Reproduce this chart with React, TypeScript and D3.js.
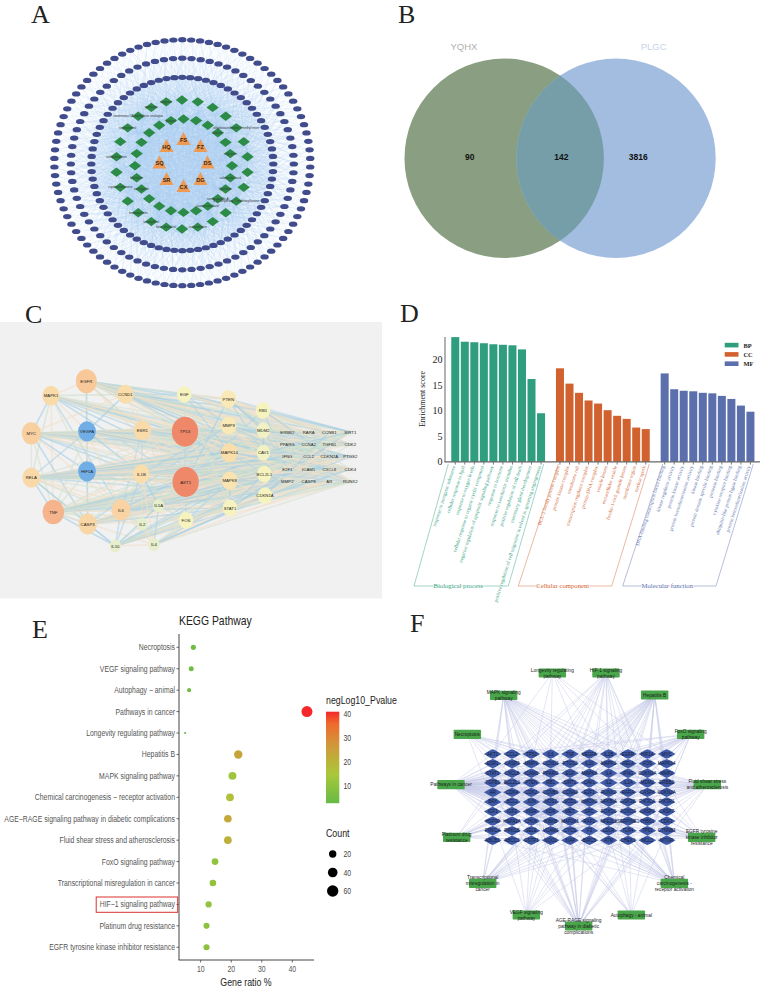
import React from "react";
import * as d3 from "d3";

const W = 764, H = 994;
const SANS = "'Liberation Sans', Arial, sans-serif";
const SERIF = "'Liberation Serif', 'Times New Roman', serif";

/* ---------- panel letters ---------- */
const panelLetters = ["A", "B", "C", "D", "E", "F"];
const letterX = [31, 398, 25, 400, 32, 410];
const letterY = [23, 23, 323, 322, 638, 632];

/* ---------- A: herb - compound - target network ---------- */
const herbs = ["FS", "FZ", "DS", "DG", "CX", "SR", "SQ", "HQ"];
const targetRingCounts = [90, 76, 72];
const targetRingRx = [128, 111.5, 91];
const targetRingRy = [123, 105.8, 86.7];
const targetRingCy = [162.7, 164, 164];
const compoundsOuter = [
  "", "", "", "", "dihydrotanshinone I methyl ester", "", "", "", "", "3',4'-dihydroxy-7-methoxyflavone", "", "",
  "isorhamnetin", "", "beta-sitosterol",
  "kaempferol", "formononetin", "", "cryptotanshinone", "", "isoliquiritigenin", "",
  "stigmasterol", "tanshinone IIA methylene analogue", "quercetin", "wogonin",
];
const compoundsInner = [
  "", "", "", "luteolin", "", "calycosin", "", "salvianolic acid", "ligustilide", "senkyunolide A", "isomucronulatol", "", "",
  "", "", "", "naringenin", "baicalein", "", "", "", "", "", "jaranol",
];

const angle = (i: number, n: number) =>
  d3.scaleLinear().domain([0, n]).range([-Math.PI / 2, (3 * Math.PI) / 2])(i);

function PanelA() {
  const cx = 182.3;
  const rings = targetRingCounts.map((n, r) =>
    d3.range(n).map((i) => ({
      x: cx + targetRingRx[r] * Math.cos(angle(i, n)),
      y: targetRingCy[r] + targetRingRy[r] * Math.sin(angle(i, n)),
    }))
  );
  const place = (names: string[], rx: number, ry: number, x0: number, y0: number) =>
    names.map((name, i) => ({
      name,
      x: x0 + rx * Math.cos(angle(i, names.length)),
      y: y0 + ry * Math.sin(angle(i, names.length)),
    }));
  const greenOuter = place(compoundsOuter, 66, 64.5, 182, 164.5);
  const greenInner = place(compoundsInner, 48.5, 46.7, 183.5, 165.7);
  const greens = [...greenOuter, ...greenInner];
  const herbNodes = place(herbs, 24, 23.5, 183.5, 163);
  const links: [number, number, number, number][] = [];
  greens.forEach((g, i) => {
    rings.forEach((ring, r) => {
      const stride = r === 2 ? 3 : 7;
      ring.forEach((t, j) => {
        if (j % stride === i % stride) links.push([g.x, g.y, t.x, t.y]);
      });
    });
    herbNodes.forEach((h) => links.push([h.x, h.y, g.x, g.y]));
  });
  return (
    <g>
      <g stroke="#a9cff0" strokeWidth={0.32} strokeOpacity={0.45}>
        {links.map((l, i) => (
          <line key={i} x1={l[0]} y1={l[1]} x2={l[2]} y2={l[3]} />
        ))}
      </g>
      {rings.flat().map((t, i) => (
        <ellipse key={i} cx={t.x} cy={t.y} rx={4.2} ry={2.6} fill="#404c8c" />
      ))}
      {greens.map((g, i) => (
        <polygon
          key={i}
          points={`${g.x - 6.2},${g.y} ${g.x},${g.y - 4.7} ${g.x + 6.2},${g.y} ${g.x},${g.y + 4.7}`}
          fill="#2c8b47"
        />
      ))}
      {greens.map((g, i) => (
        <text key={i} x={g.x} y={g.y + 1} fontSize={3.2} fontFamily={SANS} fill="#3a3a3a" textAnchor="middle">
          {g.name}
        </text>
      ))}
      {herbNodes.map((h) => (
        <g key={h.name}>
          <polygon
            points={`${h.x},${h.y - 7.5} ${h.x + 7},${h.y + 5.5} ${h.x - 7},${h.y + 5.5}`}
            fill="#ef9a52"
          />
          <text x={h.x} y={h.y + 2.4} fontSize={5.6} fontFamily={SANS} fontWeight="bold" fill="#3a2a20" textAnchor="middle">
            {h.name}
          </text>
        </g>
      ))}
    </g>
  );
}

/* ---------- B: Venn ---------- */
const vennSets = ["YQHX", "PLGC"];
const vennCounts = [90, 142, 3816];
const vennCountX = [469.7, 561.3, 638.3];

function PanelB() {
  return (
    <g>
      <defs>
        <clipPath id="vennLeft">
          <circle cx={504.2} cy={158.2} r={99.7} />
        </clipPath>
      </defs>
      <circle cx={504.2} cy={158.2} r={99.7} fill="#8a9f81" />
      <circle cx={616} cy={158.2} r={99.7} fill="#a3bde0" />
      <circle cx={616} cy={158.2} r={99.7} fill="#769ea8" clipPath="url(#vennLeft)" />
      <text x={464} y={50} fontSize={9.5} fontFamily={SANS} fill="#b0b0ac" textAnchor="middle">
        {vennSets[0]}
      </text>
      <text x={653.7} y={50} fontSize={9.5} fontFamily={SANS} fill="#c6d4e9" textAnchor="middle">
        {vennSets[1]}
      </text>
      {vennCounts.map((c, i) => (
        <text key={c} x={vennCountX[i]} y={160} fontSize={8.5} fontWeight="bold" fontFamily={SANS} fill="#111" textAnchor="middle">
          {c}
        </text>
      ))}
    </g>
  );
}

/* ---------- C: PPI network ---------- */
const geneNames = [
  "EGFR", "MAPK1", "CCND1", "EGF", "PTEN", "RB1", "MYC", "VEGFA", "ESR1", "TP53", "MMP9", "MDM2",
  "ERBB2", "RARA", "CCNB1", "SIRT1", "PPARG", "CCNA2", "TGFB1", "CDK2", "MAPK14", "CAV1", "IFNG", "CCL2",
  "CDKN2A", "PTGS2", "RELA", "HIF1A", "IL1B", "AKT1", "MAPK8", "BCL2L1", "E2F1", "ICAM1", "CXCL8", "CDK4",
  "MMP2", "CASP8", "AR", "RUNX2", "CDKN1A", "TNF", "CASP3", "IL6", "IL1A", "STAT1", "FOS", "IL2", "IL10", "IL4",
];
const geneLayoutX = [
  259, 153, 376, 553, 685, 789, 94, 261, 427, 555, 686, 790,
  862, 926, 988, 1051, 862, 926, 988, 1051, 688, 790, 862, 926,
  988, 1051, 94, 261, 424, 557, 689, 793, 862, 926, 988, 1051,
  862, 926, 988, 1051, 795, 160, 263, 363, 476, 690, 558, 427, 346, 462,
];
const geneLayoutY = [
  214, 257, 253, 253, 267, 301, 370, 364, 361, 365, 347, 361,
  366, 366, 366, 366, 403, 403, 403, 403, 428, 428, 440, 440,
  440, 440, 503, 484, 492, 516, 512, 492, 478, 478, 478, 478,
  515, 515, 515, 515, 557, 606, 642, 600, 587, 594, 631, 642, 708, 704,
];
const geneDegree = [
  30, 23, 22, 18, 20, 18, 27, 24, 23, 40, 20, 16,
  9, 9, 9, 9, 9, 9, 9, 9, 22, 16, 9, 9,
  9, 9, 24, 24, 22, 40, 21, 18, 9, 9, 9, 9,
  9, 9, 9, 9, 18, 31, 25, 26, 12, 18, 18, 12, 12, 12,
];
const gridTop = "ERBB2 RARA CCNB1 SIRT1 PPARG CCNA2 TGFB1 CDK2";
const gridMid = "IFNG CCL2 CDKN2A PTGS2 E2F1 ICAM1 CXCL8 CDK4";
const gridLow = "MMP2 CASP8 AR RUNX2";
const ppiLinks: [string, string][] = [
  ["EGFR", `MAPK1 CCND1 VEGFA ESR1 HIF1A TP53 AKT1 EGF PTEN MMP9 MDM2 MAPK14 CAV1 RB1 STAT1 ${gridTop} ${gridMid}`],
  ["MAPK1", `MYC RELA VEGFA ESR1 HIF1A TP53 AKT1 CCND1 TNF IL6 MMP9 MAPK14 MAPK8 ${gridMid} RUNX2 CASP8`],
  ["CCND1", `ESR1 VEGFA TP53 AKT1 EGF PTEN MYC RB1 MDM2 CDKN1A MAPK14 ${gridTop} E2F1 CDK4 CDKN2A RUNX2`],
  ["MYC", `RELA VEGFA HIF1A ESR1 TP53 AKT1 TNF IL6 CASP3 MMP9 BCL2L1 MDM2 CDKN1A MAPK8 STAT1 ${gridTop} ${gridMid}`],
  ["VEGFA", `HIF1A ESR1 TP53 AKT1 RELA TNF IL6 IL1B CASP3 MMP9 MAPK14 CAV1 ${gridTop} ${gridMid} ${gridLow}`],
  ["ESR1", `TP53 AKT1 IL1B FOS CDKN1A MAPK14 BCL2L1 STAT1 IL6 ${gridTop} PTGS2 CXCL8 AR RUNX2`],
  ["HIF1A", `TP53 AKT1 RELA TNF IL6 CASP3 IL1B MMP9 MAPK8 BCL2L1 CDKN1A STAT1 ${gridTop} ${gridMid} ${gridLow}`],
  ["RELA", `TNF CASP3 IL6 IL1B TP53 AKT1 MAPK14 MAPK8 BCL2L1 CDKN1A STAT1 FOS IL10 IL2 ${gridMid} ${gridLow} ${gridTop}`],
  ["TP53", `AKT1 PTEN MDM2 MMP9 RB1 MAPK14 MAPK8 BCL2L1 CDKN1A CAV1 STAT1 FOS ${gridTop} ${gridMid} ${gridLow}`],
  ["AKT1", `PTEN MDM2 MMP9 RB1 MAPK14 MAPK8 BCL2L1 CDKN1A CAV1 STAT1 FOS IL6 TNF ${gridTop} ${gridMid} ${gridLow}`],
  ["TNF", `CASP3 IL6 IL1B IL10 IL2 IL4 IL1A FOS STAT1 MAPK8 MAPK14 BCL2L1 CDKN1A MMP9 ${gridMid} ${gridLow} PPARG TGFB1 SIRT1`],
  ["CASP3", `IL6 IL10 IL1B FOS STAT1 BCL2L1 CDKN1A MMP9 MAPK8 ${gridMid} CASP8 MMP2`],
  ["IL6", `IL10 IL2 IL4 IL1A IL1B FOS STAT1 MMP9 MAPK8 MAPK14 ${gridMid} ${gridLow} TGFB1 PPARG`],
  ["IL1B", `IL10 IL2 IL4 IL1A FOS STAT1 MMP9 MAPK14 CAV1 ${gridMid} MMP2 TGFB1`],
  ["IL10", `IL2 IL4 IL1A FOS STAT1 MAPK8 BCL2L1 CDKN1A IFNG CCL2 CXCL8 ICAM1 MMP2 RUNX2 AR CASP8`],
  ["IL4", `IL2 IL1A FOS STAT1 CDKN1A IFNG CCL2 TGFB1 RUNX2 AR CXCL8`],
  ["IL1A", `FOS STAT1 MAPK8 CCL2 CXCL8 ICAM1`],
  ["EGF", `TP53 PTEN MMP9 ERBB2 CCNB1 SIRT1 TGFB1 CDK2 MAPK14 STAT1`],
  ["PTEN", `RB1 MDM2 MMP9 ERBB2 SIRT1 CCNB1 CDK2 AR RUNX2 TGFB1 CAV1`],
  ["RB1", `MDM2 CCNB1 SIRT1 CDK2 CCNA2 E2F1 CDK4 RUNX2 CDKN2A`],
  ["MMP9", `MAPK14 CAV1 TGFB1 CXCL8 MMP2 PTGS2 ICAM1 CCL2 RUNX2 ERBB2`],
  ["MDM2", `SIRT1 CDK2 CCNB1 CDKN2A E2F1 AR RUNX2 CAV1`],
  ["MAPK14", `MAPK8 CAV1 BCL2L1 SIRT1 PTGS2 CXCL8 TGFB1 RUNX2 CDK4`],
  ["MAPK8", `BCL2L1 CDKN1A STAT1 SIRT1 PTGS2 CXCL8 CASP8 RUNX2 AR`],
  ["FOS", `STAT1 CDKN1A MAPK8 RUNX2 AR MMP2 CASP8 TGFB1 PTGS2 CXCL8`],
  ["STAT1", `CDKN1A BCL2L1 RUNX2 AR CDK4 IFNG CXCL8 SIRT1`],
  ["CDKN1A", `RUNX2 AR CDK4 CDK2 SIRT1 CCNB1`],
  ["BCL2L1", `SIRT1 CDK4 RUNX2 CASP8 CDKN2A`],
  ["CAV1", `SIRT1 CDK2 CDK4 PTGS2 RUNX2`],
];
const edgeTints = ["#f2dfc8", "#a6cfe2", "#cfe0cd", "#f2dfc8", "#b4d4e2", "#d8e2d2"];

function PanelC() {
  const px = d3.scaleLinear().domain([0, 3]).range([0, 1]);
  const py = d3.scaleLinear().domain([0, 3]).range([310, 311]);
  const rad = d3.scaleLinear().domain([9, 40]).range([5, 13.4]);
  const col = d3
    .scaleLinear<string>()
    .domain([9, 12, 18, 22, 30, 31, 40])
    .range(["#e7edda", "#e7eecb", "#f6f3bf", "#f9deac", "#f8c899", "#f5b48c", "#ef8769"]);
  const idx = new Map(geneNames.map((g, i) => [g, i]));
  const edges = ppiLinks.flatMap(([s, t]) =>
    t.split(" ").map((g) => ({ s: idx.get(s)!, t: idx.get(g)! }))
  );
  const tinted = edges.map((e, i) => ({ ...e, tint: edgeTints[i % edgeTints.length] }));
  return (
    <g>
      <rect x={0} y={322} width={382} height={276.5} fill="#f1f1f2" />
      <g strokeLinecap="round">
        {tinted.map((e, i) => (
          <line
            key={i}
            x1={px(geneLayoutX[e.s])}
            y1={py(geneLayoutY[e.s])}
            x2={px(geneLayoutX[e.t])}
            y2={py(geneLayoutY[e.t])}
            stroke={e.tint}
            strokeWidth={1.6}
            strokeOpacity={0.62}
          />
        ))}
      </g>
      {geneNames.map((g, i) => {
        const blue = g === "VEGFA" || g === "HIF1A";
        const small = geneDegree[i] === 9;
        return (
          <g key={g}>
            <ellipse
              cx={px(geneLayoutX[i])}
              cy={py(geneLayoutY[i])}
              rx={small ? 6 : rad(geneDegree[i]) * 0.98}
              ry={small ? 4 : rad(geneDegree[i]) * 1.12}
              fill={blue ? "#72aee6" : col(geneDegree[i])}
              fillOpacity={small ? 0.25 : 1}
            />
            <text
              x={px(geneLayoutX[i])}
              y={py(geneLayoutY[i]) + 1.5}
              fontSize={4.3}
              fontFamily={SANS}
              fill="#222"
              textAnchor="middle"
            >
              {g}
            </text>
          </g>
        );
      })}
    </g>
  );
}

/* ---------- D: GO enrichment ---------- */
const bpTerms = [
  "response to inorganic substance", "cellular response to lipid", "response to oxygen levels",
  "cellular response to organic cyclic compound", "negative regulation of apoptotic signaling pathway",
  "response to hormone", "response to xenobiotic stimulus", "positive regulation of cell death",
  "mammary gland development", "positive regulation of cell migration involved in sprouting angiogenesis",
];
const bpScores = [24.4, 23.5, 23.4, 23.2, 23.0, 22.9, 22.8, 22.0, 16.2, 9.5];
const ccTerms = [
  "BCL-2 family protein complex", "protein kinase complex", "membrane raft",
  "transcription regulator complex", "protein-DNA complex", "vesicle lumen",
  "extracellular vesicle", "ficolin-1-rich granule lumen", "membrane region", "nuclear speck",
];
const ccScores = [18.3, 15.3, 13.5, 12.0, 11.4, 10.1, 9.0, 8.4, 6.7, 6.4];
const mfTerms = [
  "DNA-binding transcription factor binding", "kinase regulator activity", "protein kinase activity",
  "protein homodimerization activity", "kinase binding", "protein domain specific binding",
  "protease binding", "cytokine receptor binding", "ubiquitin-like protein ligase binding",
  "protein heterodimerization activity",
];
const mfScores = [17.3, 14.2, 13.9, 13.8, 13.5, 13.4, 12.9, 12.3, 11.0, 9.8];
const goYTicks = [0, 5, 10, 15, 20];
const goGroups = ["BP", "CC", "MF"];
const goGroupTitles = ["Biological process", "Cellular component", "Molecular function"];

function PanelD() {
  const y = d3.scaleLinear().domain([0, 20]).range([461.8, 359.6]);
  const colours = ["#2f9e7e", "#d1622f", "#5b6fad"];
  const ranges: [number, number][] = [[450.5, 545.8], [555.2, 650.5], [659.9, 755.2]];
  const groups = [
    { terms: bpTerms, scores: bpScores },
    { terms: ccTerms, scores: ccScores },
    { terms: mfTerms, scores: mfScores },
  ];
  const boxX = [[58.3, 24, 118.3, 153.7], [168.3, 128.3, 221.7, 259.3], [272.7, 232.7, 326, 363.3]];
  const titleX = [458.3, 562.7, 667.3];
  return (
    <g>
      {groups.map((g, k) => {
        const x = d3.scaleBand().domain(g.terms).range(ranges[k]).paddingInner(0.16).paddingOuter(0.08);
        const [a, b, c, d] = boxX[k].map((v) => 390 + v);
        return (
          <g key={k}>
            <path d={`M${a},464 L${b},586 L${c},586 L${d},464`} fill="none" stroke={colours[k]} strokeOpacity={0.75} strokeWidth={0.6} />
            {g.terms.map((t, i) => (
              <g key={t}>
                <rect x={x(t)} y={y(g.scores[i])} width={x.bandwidth()} height={y(0) - y(g.scores[i])} fill={colours[k]} />
                <line x1={x(t)! + x.bandwidth() / 2} x2={x(t)! + x.bandwidth() / 2} y1={461.8} y2={464.6} stroke="#444" strokeWidth={0.7} />
                <text
                  transform={`translate(${x(t)! + x.bandwidth() / 2 - 1},466) rotate(-72)`}
                  fontSize={5}
                  fontFamily={SERIF}
                  fill={colours[k]}
                  textAnchor="end"
                  dominantBaseline="middle"
                >
                  {t}
                </text>
              </g>
            ))}
            <text
              x={titleX[k]}
              y={588}
              fontSize={6.7}
              fontFamily={SERIF}
              fill={colours[k]}
              textAnchor="middle"
              stroke="#fff"
              strokeWidth={1.5}
              paintOrder="stroke"
            >
              {goGroupTitles[k]}
            </text>
          </g>
        );
      })}
      <line x1={445} x2={445} y1={337} y2={462} stroke="#666" strokeWidth={1} />
      <line x1={444.5} x2={760} y1={461.8} y2={461.8} stroke="#666" strokeWidth={1.2} />
      {goYTicks.map((t) => (
        <text key={t} x={442.5} y={y(t) + 3.4} fontSize={10} fontFamily={SERIF} fill="#222" textAnchor="end">
          {t}
        </text>
      ))}
      <text transform="translate(425,399) rotate(-90)" fontSize={8} fontFamily={SERIF} fill="#222" textAnchor="middle">
        Enrichment score
      </text>
      {goGroups.map((g, k) => (
        <g key={g}>
          <rect x={724.7} y={342.8 + k * 9.3} width={13.8} height={4.6} fill={colours[k]} />
          <text x={743.5} y={347.6 + k * 9.3} fontSize={6.4} fontWeight="bold" fontFamily={SERIF} fill="#222">
            {g}
          </text>
        </g>
      ))}
    </g>
  );
}

/* ---------- E: KEGG bubble ---------- */
const keggPathways = [
  "Necroptosis", "VEGF signaling pathway", "Autophagy − animal", "Pathways in cancer",
  "Longevity regulating pathway", "Hepatitis B", "MAPK signaling pathway",
  "Chemical carcinogenesis − receptor activation", "AGE−RAGE signaling pathway in diabetic complications",
  "Fluid shear stress and atherosclerosis", "FoxO signaling pathway", "Transcriptional misregulation in cancer",
  "HIF−1 signaling pathway", "Platinum drug resistance", "EGFR tyrosine kinase inhibitor resistance",
];
const keggRatio = [7.6, 6.9, 6.2, 44.8, 4.9, 22.3, 20.4, 19.6, 18.9, 18.9, 14.7, 14, 12.6, 11.9, 11.9];
const keggCount = [11, 10, 9, 64, 7, 32, 29, 28, 27, 27, 21, 20, 18, 17, 17];
const keggNegLogP = [5, 5, 5, 41, 3, 24, 13, 17, 23, 21, 11, 11, 11, 10, 10];
const keggXTicks = [10, 20, 30, 40];
const pColourTicks = [40, 30, 20, 10];
const countTicks = [20, 40, 60];

const pColourStops = [3, 15, 27, 36, 41];
const pColours = ["#66ba46", "#a9c83a", "#d1983a", "#ef6a2c", "#f4282a"];
const pColour = d3.scaleLinear<string>().domain(pColourStops).range(pColours);
const countR = d3.scaleLinear().domain([7, 10, 20, 40, 64]).range([1.1, 2.5, 3.3, 4.8, 5.5]);

function Condensed(props: {
  x: number; y: number; size: number; fill: string; anchor?: string; children: React.ReactNode;
}) {
  return (
    <text
      transform={`translate(${props.x},${props.y}) scale(0.8,1)`}
      fontSize={props.size}
      fontFamily={SANS}
      fill={props.fill}
      textAnchor={props.anchor ?? "start"}
    >
      {props.children}
    </text>
  );
}

function PanelE() {
  const x = d3.scaleLinear().domain([10, 40]).range([200.7, 292.3]);
  const y = d3.scalePoint().domain(keggPathways).range([647.3, 947.3]);
  return (
    <g>
      <defs>
        <linearGradient id="pGrad" x1="0" y1="1" x2="0" y2="0">
          {pColourStops.map((s, i) => (
            <stop key={s} offset={(s - 3) / 38} stopColor={pColours[i]} />
          ))}
        </linearGradient>
      </defs>
      <Condensed x={179} y={625} size={13} fill="#222">KEGG Pathway</Condensed>
      <line x1={179} x2={179} y1={634} y2={960} stroke="#444" strokeWidth={1} />
      <line x1={178.5} x2={314} y1={960} y2={960} stroke="#444" strokeWidth={1} />
      {keggPathways.map((p, i) => (
        <g key={p}>
          <line x1={176.5} x2={179} y1={y(p)} y2={y(p)} stroke="#444" strokeWidth={0.8} />
          <Condensed x={175} y={y(p)! + 3} size={8.6} fill="#555" anchor="end">{p}</Condensed>
          <circle cx={x(keggRatio[i])} cy={y(p)} r={countR(keggCount[i])} fill={pColour(keggNegLogP[i])} />
        </g>
      ))}
      <rect x={96.2} y={897} width={81.5} height={15.3} fill="none" stroke="#d8332f" strokeWidth={1} />
      {keggXTicks.map((t) => (
        <g key={t}>
          <line x1={x(t)} x2={x(t)} y1={960} y2={962.5} stroke="#444" strokeWidth={0.8} />
          <Condensed x={x(t)} y={972} size={8.6} fill="#555" anchor="middle">{t}</Condensed>
        </g>
      ))}
      <Condensed x={246} y={985.5} size={11} fill="#222" anchor="middle">Gene ratio %</Condensed>
      <Condensed x={326} y={704} size={11} fill="#222">negLog10_Pvalue</Condensed>
      <rect x={326} y={711.7} width={13.3} height={91.5} fill="url(#pGrad)" />
      {pColourTicks.map((t, i) => (
        <Condensed key={t} x={343.5} y={[716.5, 740.8, 764.8, 789][i]} size={8.6} fill="#444">{t}</Condensed>
      ))}
      <Condensed x={326} y={837} size={11} fill="#222">Count</Condensed>
      {countTicks.map((c, i) => (
        <g key={c}>
          <circle cx={332.7} cy={854 + i * 18.5} r={[3.7, 4.8, 5.7][i]} fill="#000" />
          <Condensed x={343.5} y={857 + i * 18.5} size={8.6} fill="#444">{c}</Condensed>
        </g>
      ))}
    </g>
  );
}

/* ---------- F: pathway - target network ---------- */
const targetGenes = [
  "AKT1", "CCL2", "TP53", "IL6", "TNF", "VEGFA", "IL1B", "EGFR", "HIF1A", "MYC",
  "ESR1", "CASP3", "MMP9", "CCND1", "PTGS2", "IL10", "MAPK1", "RELA", "FOS", "MAPK14",
  "STAT1", "CXCL8", "ICAM1", "PPARG", "EGF", "MAPK8", "IL4", "IFNG", "CDKN1A", "MMP2",
  "TGFB1", "BCL2L1", "PTEN", "RB1", "SIRT1", "CAV1", "IL2", "IL1A", "MDM2", "ERBB2",
  "AR", "CDK4", "CDK2", "CCNB1", "CCNA2", "E2F1", "RUNX2", "RARA", "CASP8", "CDKN2A",
  "BAX", "BCL2", "JUN", "NOS3", "SOD1", "HMOX1", "NFKBIA", "GSK3B", "PIK3CA", "PIK3R1",
  "IGF1", "IGF2", "INSR", "KDR", "MET", "SRC", "FOXO1", "FOXO3", "CASP9", "CASP7",
  "HSP90", "HSPA1A", "CHUK", "IKBKB", "MAP2K1", "RAF1", "NFE2L2", "SERPINE1", "THBS1", "CDK1",
  "PRKCA", "PRKCB", "SELE", "VCAM1", "CYCS", "F3", "LDLR", "TLR4", "TP63", "CTNNB1",
  "ABCB1", "ABCC1", "GSTP1", "NQO1", "XIAP", "BIRC5", "ATM", "CHEK1", "MCL1", "MTOR",
];
const mapPathways = [
  "Longevity regulating pathway", "HIF-1 signaling pathway", "MAPK signaling pathway", "Hepatitis B",
  "Necroptosis", "FoxO signaling pathway", "Pathways in cancer", "Fluid shear stress and atherosclerosis",
  "Platinum drug resistance", "EGFR tyrosine kinase inhibitor resistance", "Transcriptional misregulation in cancer",
  "Chemical carcinogenesis - receptor activation", "VEGF signaling pathway", "Autophagy - animal",
  "AGE-RAGE signaling pathway in diabetic complications",
];
const mapPathwayLines = [
  ["Longevity regulating", "pathway"], ["HIF-1 signaling", "pathway"], ["MAPK signaling", "pathway"], ["Hepatitis B"],
  ["Necroptosis"], ["FoxO signaling", "pathway"], ["Pathways in cancer"], ["Fluid shear stress", "and atherosclerosis"],
  ["Platinum drug", "resistance"], ["EGFR tyrosine", "kinase inhibitor", "resistance"], ["Transcriptional", "misregulation in", "cancer"],
  ["Chemical", "carcinogenesis -", "receptor activation"], ["VEGF signaling", "pathway"], ["Autophagy - animal"],
  ["AGE-RAGE signaling", "pathway in diabetic", "complications"],
];
const mapCounts = [7, 18, 29, 32, 11, 21, 64, 27, 17, 17, 20, 28, 10, 9, 27];
const mapBoxX = [427, 588, 281, 734, 172, 842, 123, 892, 140, 875, 218, 793, 349, 664, 506];
const mapBoxY = [129, 129, 196, 195, 313, 313, 464, 464, 622, 622, 760, 760, 855, 855, 888];
const mapStrides = [3, 7, 9, 11, 13, 17, 19, 21, 23, 27, 29, 31, 33, 37, 39];

function PanelF() {
  const bx = d3.scaleLinear().domain([0, 3]).range([410, 411]);
  const by = d3.scaleLinear().domain([0, 3]).range([630, 631]);
  const col = d3.scalePoint<number>().domain(d3.range(10)).range([492.7, 666.7]);
  const row = d3.scalePoint<number>().domain(d3.range(10)).range([754, 840.3]);
  const gx = (g: number) => col(g % 10)!;
  const gy = (g: number) => row(Math.floor(g / 10))!;
  const links = mapPathways.flatMap((p, k) =>
    d3.range(mapCounts[k]).map((i) => ({
      x1: bx(mapBoxX[k]),
      y1: by(mapBoxY[k]),
      g: (k * 6 + i * mapStrides[k]) % targetGenes.length,
    }))
  );
  return (
    <g>
      <g stroke="#c4c8e8" strokeWidth={0.55} strokeOpacity={0.85}>
        {links.map((l, i) => (
          <line key={i} x1={l.x1} y1={l.y1} x2={gx(l.g)} y2={gy(l.g)} />
        ))}
      </g>
      {targetGenes.map((g, i) => {
        const x = gx(i), y = gy(i);
        return (
          <g key={g}>
            <polygon
              points={`${x - 8.8},${y} ${x - 3},${y - 3.4} ${x},${y - 4.7} ${x + 3},${y - 3.4} ${x + 8.8},${y} ${x + 3},${y + 3.4} ${x},${y + 4.7} ${x - 3},${y + 3.4}`}
              fill="#3f5aa6"
            />
            <text x={x} y={y + 1.5} fontSize={4.5} fontFamily={SANS} fill="#141b38" textAnchor="middle">
              {g}
            </text>
          </g>
        );
      })}
      {mapPathways.map((p, k) => {
        const x = bx(mapBoxX[k]), y = by(mapBoxY[k]);
        const lines = mapPathwayLines[k];
        return (
          <g key={p}>
            <rect x={x - 13.7} y={y - 4.6} width={27.4} height={9.2} rx={0.8} fill="#4aa64b" />
            {lines.map((t, i) => (
              <text
                key={t}
                x={x}
                y={y + 1.6 + (i - (lines.length - 1) / 2) * 6}
                fontSize={4.8}
                fontFamily={SANS}
                fill="#1c1c1c"
                textAnchor="middle"
              >
                {t}
              </text>
            ))}
          </g>
        );
      })}
    </g>
  );
}

export default function App() {
  return (
    <svg
      width={W}
      height={H}
      viewBox={`0 0 ${W} ${H}`}
      style={{ position: "absolute", left: 0, top: 0, background: "#fff" }}
    >
      <PanelC />
      <PanelA />
      <PanelB />
      <PanelD />
      <PanelE />
      <PanelF />
      {panelLetters.map((l, i) => (
        <text key={l} x={letterX[i]} y={letterY[i]} fontSize={26} fontFamily={SERIF} fill="#222">
          {l}
        </text>
      ))}
    </svg>
  );
}
